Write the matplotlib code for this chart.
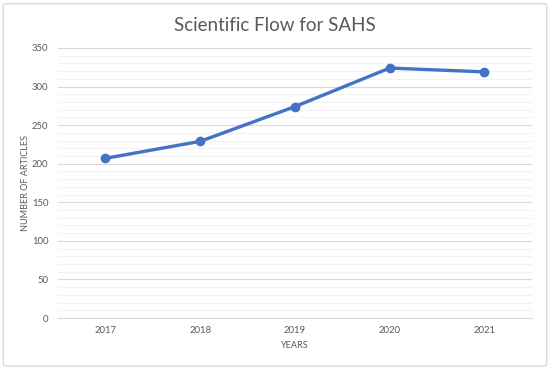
import matplotlib
matplotlib.use("Agg")
import matplotlib.pyplot as plt
from matplotlib.patches import FancyBboxPatch
from matplotlib.ticker import MultipleLocator

years = ["2017", "2018", "2019", "2020", "2021"]
articles = [207, 229, 274, 324, 319]

plt.rcParams['font.family'] = ['Lato', 'DejaVu Sans']

fig = plt.figure(figsize=(5.5, 3.69), dpi=100)
fig.patch.set_facecolor("white")
border = FancyBboxPatch((0.006, 0.008), 0.988, 0.982, boxstyle="round,pad=0,rounding_size=0.005",
                        transform=fig.transFigure, facecolor="none", edgecolor="#D9D9D9", lw=1.0,
                        zorder=-10)
fig.patches.append(border)

ax = fig.add_axes([0.1055, 0.138, 0.8615, 0.732])
ax.patch.set_alpha(0)
x = list(range(len(years)))
ax.plot(x, articles, color="#4472C4", lw=2.4, marker="o", markersize=6, zorder=3)
ax.set_xlim(-0.5, len(years) - 0.5)
ax.set_ylim(0, 350)
ax.set_xticks(x)
ax.set_xticklabels(years)
ax.yaxis.set_major_locator(MultipleLocator(50))
ax.yaxis.set_minor_locator(MultipleLocator(10))
ax.grid(which="major", axis="y", color="#D9D9D9", lw=0.8)
ax.grid(which="minor", axis="y", color="#F2F2F2", lw=0.8)
ax.set_axisbelow(True)
for s in ["top", "right", "left"]:
    ax.spines[s].set_visible(False)
ax.spines["bottom"].set_color("#D9D9D9")
ax.tick_params(which="both", length=0, labelsize=6.8, labelcolor="#595959")
ax.tick_params(axis="x", pad=6)
ax.tick_params(axis="y", pad=7)
ax.set_xlabel("YEARS", fontsize=6.5, color="#595959", labelpad=4)
ax.set_ylabel("NUMBER OF ARTICLES", fontsize=6.5, color="#595959", labelpad=1)
fig.text(0.5, 0.93, "Scientific Flow for SAHS", ha="center", va="center", fontsize=13.5, color="#595959")

fig.savefig("out.png", dpi=100)
